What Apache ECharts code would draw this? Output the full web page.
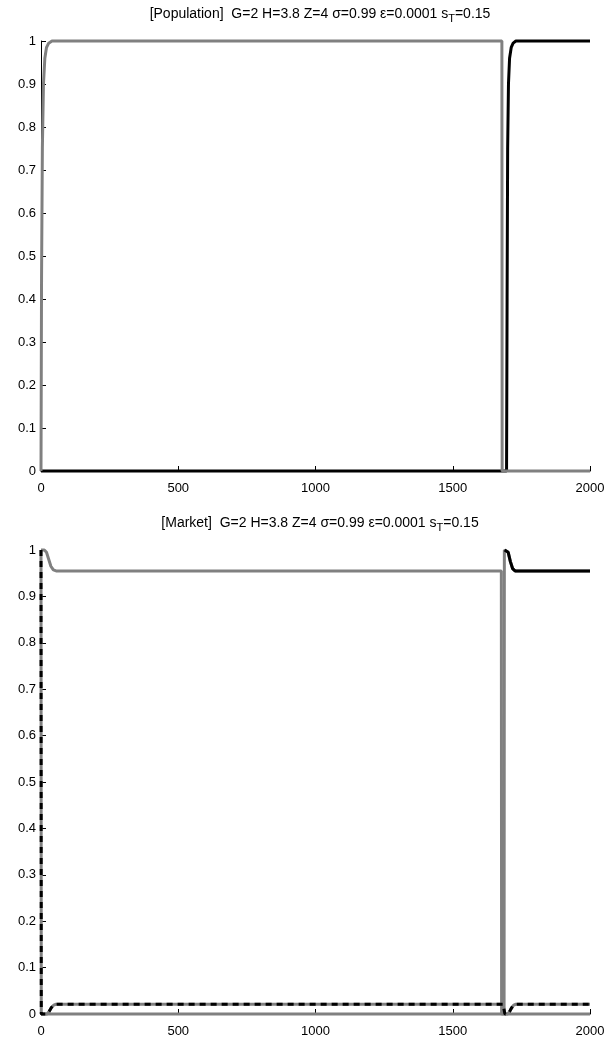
<!DOCTYPE html>
<html>
<head>
<meta charset="utf-8">
<script src="https://cdn.jsdelivr.net/npm/echarts@6/dist/echarts.min.js"></script>
<style>
  html, body { margin: 0; padding: 0; background: #fff; }
  #chart { width: 612px; height: 1039px; }
</style>
</head>
<body>
<div id="chart"></div>
<script>
// x-axis ticks / y-axis ticks
var xTicks = [0, 500, 1000, 1500, 2000];
var yTicks = [0, 0.1, 0.2, 0.3, 0.4, 0.5, 0.6, 0.7, 0.8, 0.9, 1];

// [Population] 图
var popGrayX = [0, 2, 5, 9, 14, 20, 28, 40, 1679, 1680, 2000];
var popGrayY = [0, 0.45, 0.75, 0.9, 0.96, 0.985, 0.995, 1, 1, 0, 0];
var popBlackX = [0, 1696, 1698, 1700, 1703, 1707, 1713, 1720, 1730, 2000];
var popBlackY = [0, 0, 0.4, 0.75, 0.9, 0.96, 0.985, 0.995, 1, 1];

// [Market] 图
var mktGrayHiX = [0, 12, 20, 28, 36, 45, 55, 1677, 1678, 2000];
var mktGrayHiY = [1, 1, 0.995, 0.98, 0.965, 0.957, 0.955, 0.955, 0, 0];
var mktGrayUpX = [0, 1687, 1688, 1694, 1702, 1710, 1718, 1727, 2000];
var mktGrayUpY = [0, 0, 1, 1, 0.995, 0.975, 0.96, 0.955, 0.955];
var mktLowX = [0, 1, 22, 30, 38, 46, 55, 1683, 1690, 1700, 1707, 1714, 1722, 1730, 2000];
var mktLowY = [1, 0, 0, 0.006, 0.014, 0.019, 0.021, 0.021, 0, 0, 0.005, 0.013, 0.019, 0.021, 0.021];
var mktBlackX = [1689, 1694, 1702, 1710, 1718, 1727, 2000];
var mktBlackY = [1, 1, 0.995, 0.975, 0.96, 0.955, 0.955];

function zip(xs, ys) {
  var out = [];
  for (var i = 0; i < xs.length; i++) out.push([xs[i], ys[i]]);
  return out;
}

var font = "'Liberation Sans', Arial, sans-serif";

function titleOf(name, top) {
  return {
    text: "{a|[" + name + "]  G=2 H=3.8 Z=4 σ=0.99 ε=0.0001 s}{b|T}{a|=0.15}",
    left: 315,
    top: top,
    textAlign: "center",
    textStyle: {
      fontWeight: "normal",
      rich: {
        a: { fontFamily: font, fontSize: 14, fontWeight: "normal", color: "#000", lineHeight: 18 },
        b: { fontFamily: font, fontSize: 11, fontWeight: "normal", color: "#000", lineHeight: 18, padding: [9, 0, 0, 0] }
      }
    }
  };
}

function xAxisOf(idx) {
  return {
    gridIndex: idx,
    type: "value",
    min: 0,
    max: 2000,
    interval: 500,
    splitLine: { show: false },
    axisLine: { show: true, onZero: false, lineStyle: { color: "#000", width: 1 } },
    axisTick: { show: true, inside: true, length: 5, lineStyle: { color: "#000" } },
    axisLabel: {
      fontFamily: font, fontSize: 13, color: "#000", margin: 11,
      formatter: function (v) { return String(v); }
    }
  };
}

function yAxisOf(idx) {
  return {
    gridIndex: idx,
    type: "value",
    min: 0,
    max: 1,
    interval: 0.1,
    splitLine: { show: false },
    axisLine: { show: true, onZero: false, lineStyle: { color: "#000", width: 1 } },
    axisTick: { show: true, inside: true, length: 5, lineStyle: { color: "#000" } },
    axisLabel: {
      fontFamily: font, fontSize: 13, color: "#000", margin: 5,
      formatter: function (v) { return String(Math.round(v * 10) / 10); }
    }
  };
}

function line(idx, data, color, type, z) {
  return {
    type: "line",
    xAxisIndex: idx,
    yAxisIndex: idx,
    data: data,
    showSymbol: false,
    symbol: "none",
    clip: false,
    z: z,
    lineStyle: { color: color, width: 3, type: type }
  };
}

var chart = echarts.init(document.getElementById("chart"));
chart.setOption({
  animation: false,
  backgroundColor: "#fff",
  title: [titleOf("Population", 0), titleOf("Market", 509)],
  grid: [
    { left: 41, right: 22, top: 41, height: 430 },
    { left: 41, right: 22, top: 550, height: 464 }
  ],
  xAxis: [xAxisOf(0), xAxisOf(1)],
  yAxis: [yAxisOf(0), yAxisOf(1)],
  series: [
    line(0, zip(popBlackX, popBlackY), "#000", "solid", 2),
    line(0, zip(popGrayX, popGrayY), "#808080", "solid", 3),
    line(1, zip(mktGrayHiX, mktGrayHiY), "#808080", "solid", 2),
    line(1, zip(mktGrayUpX, mktGrayUpY), "#808080", "solid", 2),
    line(1, zip(mktLowX, mktLowY), "#808080", "solid", 3),
    line(1, zip(mktLowX, mktLowY), "#000", [6, 5], 4),
    line(1, zip(mktBlackX, mktBlackY), "#000", "solid", 4)
  ]
});
</script>
</body>
</html>
